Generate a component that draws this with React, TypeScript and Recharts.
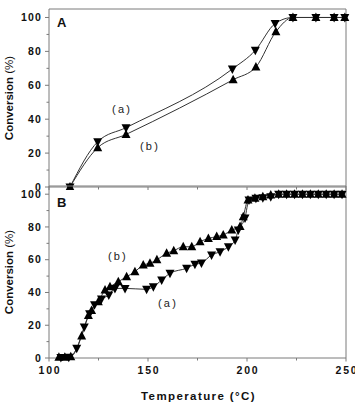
import React from 'react';
import { LineChart, Line, XAxis, YAxis, ReferenceLine, ReferenceDot, Label } from 'recharts';

const FONT = '"Liberation Sans", Arial, Helvetica, sans-serif';
const FRAME = '#7a7a7a';

// Panel A: temperature (°C) / conversion (%)
const aTempA = [110.6, 124.6, 138.9, 192.6, 204.2, 214.2, 223.2, 234.8, 244, 249.4];
const aConvA = [0, 26.7, 35, 69.6, 80.6, 96.4, 100, 100, 100, 100];
const aTempB = [110.6, 124.6, 138.9, 193, 204.5, 214.6, 223.2, 234.8, 244, 249.4];
const aConvB = [0, 23.2, 31, 63.3, 70.8, 91.6, 100, 100, 100, 100];

// Panel B
const bTempA = [
  106, 110, 114, 117.8, 120.5, 123, 126.5, 130.2, 133.3, 138.4, 149.3, 152.7, 156.9, 161.1,
  169.5, 173.7, 177, 182.1, 186.4, 190.6, 194, 195.6, 199, 201, 204.5, 208, 212,
  216, 220, 224, 228, 232, 236, 240, 244, 248,
];
const bConvA = [
  0.3, 0.5, 5.9, 19, 27, 32.5, 36, 38.5, 42.5, 42.5, 41.9, 43.5, 47.6, 51.7,
  54.8, 57.2, 58, 62.9, 64.9, 67.9, 72, 78.1, 85.5, 96.5, 97.5, 97.8, 98.5,
  100, 100, 100, 100, 100, 100, 100, 100, 100,
];
const bTempB = [
  105, 108, 111, 116.5, 119.9, 121.5, 124.9, 128.3, 130.8, 135, 139.2, 143.4, 147.6, 151,
  154.5, 159.4, 163, 167.8, 172.1, 176.3, 180.5, 184.7, 188, 192.3, 196.5, 198.1, 200.5,
  204, 208, 212, 216, 220, 224, 228, 232, 236, 240, 244, 248,
];
const bConvB = [
  0.5, 0.5, 0.8, 13.4, 26, 29, 34.4, 41.5, 43.5, 46.6, 49.6, 52.7, 56.8, 57.8,
  60, 63.9, 65.5, 67.9, 67.9, 71, 73, 74.1, 75.1, 78.1, 80.2, 86.2, 96.5,
  97.5, 98.5, 99.5, 100, 100, 100, 100, 100, 100, 100, 100, 100,
];

const yTicks = [0, 10, 20, 30, 40, 50, 60, 70, 80, 90, 100];
const xTicks = [100, 125, 150, 175, 200, 225, 250];

const toRows = (t: number[], v: number[]) => t.map((x, i) => ({ t: x, v: v[i] }));

const UpTri = (p: any) => {
  const { cx, cy } = p;
  if (cx == null || cy == null) return null;
  return <path d={`M${cx},${cy - 5}L${cx + 4.5},${cy + 3.5}L${cx - 4.5},${cy + 3.5}Z`} fill="#000" />;
};

const DownTri = (p: any) => {
  const { cx, cy } = p;
  if (cx == null || cy == null) return null;
  return <path d={`M${cx},${cy + 5}L${cx + 4.5},${cy - 3.5}L${cx - 4.5},${cy - 3.5}Z`} fill="#000" />;
};

// ticks point outward, short ones on the odd tens
const YTick = (p: any) => {
  const { x, y, payload } = p;
  const major = payload.value % 20 === 0;
  return (
    <g>
      <line x1={x - (major ? 4 : 2.5)} y1={y} x2={x} y2={y} stroke={FRAME} />
      {major && (
        <text x={x - 7} y={y} dy="0.35em" textAnchor="end" fontFamily={FONT} fontWeight="bold" fontSize={10.5} letterSpacing={1.2} fill="#111">
          {payload.value}
        </text>
      )}
    </g>
  );
};

const makeXTick = (showLabels: boolean) => (p: any) => {
  const { x, y, payload } = p;
  const major = payload.value % 50 === 0;
  return (
    <g>
      <line x1={x} y1={y} x2={x} y2={y + (major ? 3.5 : 2.5)} stroke={FRAME} />
      {showLabels && major && (
        <text x={x + 1} y={y + 12.5} dy="0.35em" textAnchor="middle" fontFamily={FONT} fontWeight="bold" fontSize={10.5} letterSpacing={1.8} fill="#111">
          {payload.value}
        </text>
      )}
    </g>
  );
};

const yTitle = (props: any) => {
  const { viewBox } = props;
  const cx = 9;
  const cy = viewBox.y + viewBox.height / 2;
  return (
    <text x={cx} y={cy} transform={`rotate(-90 ${cx} ${cy})`} textAnchor="middle" dy="0.35em" fontFamily={FONT} fontSize={11.5} fill="#111">
      <tspan fontWeight="bold">Conversion </tspan>
      <tspan fontWeight="normal">(%)</tspan>
    </text>
  );
};

const xTitle = (props: any) => {
  const { viewBox } = props;
  return (
    <text x={viewBox.x + viewBox.width / 2 + 1} y={viewBox.y + 37.5} textAnchor="middle" dy="0.35em" fontFamily={FONT} fontWeight="bold" fontSize={11.5} letterSpacing={1.4} fill="#111">
      Temperature (°C)
    </text>
  );
};

const tag = (text: string) => (props: any) => {
  const { viewBox } = props;
  return (
    <text x={viewBox.x} y={viewBox.y} textAnchor="middle" dy="0.35em" fontFamily={FONT} fontSize={11} letterSpacing={2.2} fill="#222">
      {text}
    </text>
  );
};

const panelLetter = (text: string, y: number) => (
  <text x={57} y={y} dy="0.35em" fontFamily={FONT} fontWeight="bold" fontSize={13} fill="#111">
    {text}
  </text>
);

interface PanelProps {
  seriesA: { t: number; v: number }[];
  seriesB: { t: number; v: number }[];
  height: number;
  top: number;
  axisHeight: number;
  letter: string;
  letterY: number;
  showXLabels: boolean;
  tagA: [number, number];
  tagB: [number, number];
}

const Panel: React.FC<PanelProps> = ({ seriesA, seriesB, height, top, axisHeight, letter, letterY, showXLabels, tagA, tagB }) => (
  <LineChart width={355} height={height} margin={{ top, right: 9, left: 0, bottom: 0 }} style={{ overflow: 'visible' }}>
    <XAxis
      type="number"
      dataKey="t"
      domain={[100, 250]}
      ticks={xTicks}
      interval={0}
      height={axisHeight}
      tickSize={0}
      tickMargin={0}
      tick={makeXTick(showXLabels)}
      axisLine={{ stroke: FRAME }}
      tickLine={false}
    >
      {showXLabels && <Label content={xTitle} />}
    </XAxis>
    <YAxis
      type="number"
      domain={[0, 105]}
      ticks={yTicks}
      interval={0}
      width={49}
      tickSize={0}
      tickMargin={0}
      tick={YTick}
      axisLine={{ stroke: FRAME }}
      tickLine={false}
    >
      <Label content={yTitle} />
    </YAxis>
    <ReferenceLine y={105} stroke={FRAME} />
    <ReferenceLine x={250} stroke={FRAME} />
    <Line data={seriesA} dataKey="v" type="monotone" stroke="#333" strokeWidth={1} dot={<DownTri />} activeDot={false} isAnimationActive={false} />
    <Line data={seriesB} dataKey="v" type="monotone" stroke="#333" strokeWidth={1} dot={<UpTri />} activeDot={false} isAnimationActive={false} />
    <ReferenceDot x={tagA[0]} y={tagA[1]} r={0} fill="none" stroke="none" label={tag('(a)')} />
    <ReferenceDot x={tagB[0]} y={tagB[1]} r={0} fill="none" stroke="none" label={tag('(b)')} />
    {panelLetter(letter, letterY)}
  </LineChart>
);

export default function App() {
  return (
    <div style={{ position: 'absolute', left: 0, top: 0, width: 355, height: 402, background: '#fff', overflow: 'hidden' }}>
      <div style={{ position: 'absolute', left: 0, top: 0 }}>
        <Panel
          seriesA={toRows(aTempA, aConvA)}
          seriesB={toRows(aTempB, aConvB)}
          height={190}
          top={9}
          axisHeight={3}
          letter="A"
          letterY={22}
          showXLabels={false}
          tagA={[136.9, 46]}
          tagB={[151, 24.2]}
        />
      </div>
      <div style={{ position: 'absolute', left: 0, top: 180 }}>
        <Panel
          seriesA={toRows(bTempA, bConvA)}
          seriesB={toRows(bTempB, bConvB)}
          height={222}
          top={6}
          axisHeight={44}
          letter="B"
          letterY={22}
          showXLabels={true}
          tagA={[160.1, 33.6]}
          tagB={[134.8, 62.3]}
        />
      </div>
    </div>
  );
}
